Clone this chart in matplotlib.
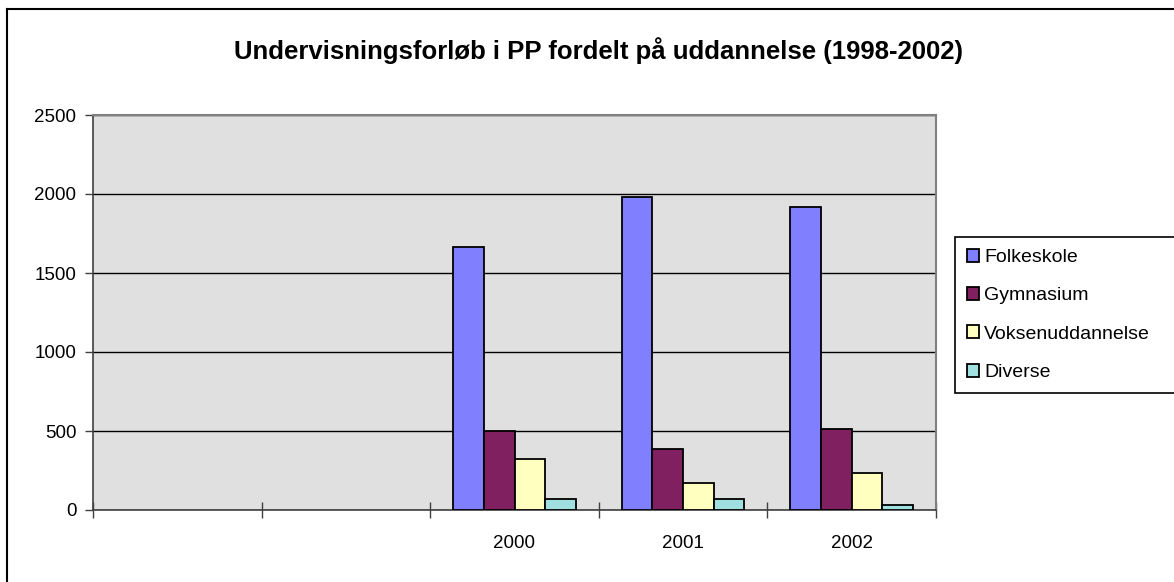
import matplotlib.pyplot as plt
import numpy as np
from matplotlib.lines import Line2D

plt.rcParams['font.family'] = ['Liberation Sans', 'DejaVu Sans']

years = ['1998', '1999', '2000', '2001', '2002']
year_labels = ['', '', '2000', '2001', '2002']
folkeskole = [np.nan, np.nan, 1663, 1979, 1916]
gymnasium = [np.nan, np.nan, 498, 384, 511]
voksenuddannelse = [np.nan, np.nan, 321, 169, 232]
diverse = [np.nan, np.nan, 68, 68, 30]

series_names = ['Folkeskole', 'Gymnasium', 'Voksenuddannelse', 'Diverse']
series_values = [folkeskole, gymnasium, voksenuddannelse, diverse]
series_colors = ['#8080FF', '#802060', '#FFFFC0', '#A0E0E0']

W, H = 1174, 582
fig = plt.figure(figsize=(W / 100, H / 100), dpi=100)
ax = fig.add_axes([93 / W, 1 - 510 / H, (936 - 93) / W, (510 - 115) / H])

x = np.arange(len(years))
width = 1 / 5.5
for i, (name, vals, color) in enumerate(zip(series_names, series_values, series_colors)):
    ax.bar(x + (i - 1.5) * width, vals, width, color=color, edgecolor='black',
           linewidth=1.3, label=name, zorder=3)

ax.set_xlim(-0.5, len(years) - 0.5)
ax.set_ylim(0, 2500)
ax.set_yticks(np.arange(0, 2501, 500))
ax.set_facecolor('#E0E0E0')
ax.yaxis.grid(True, color='black', linewidth=1)
ax.set_axisbelow(True)

# category ticks at the boundaries, labels in the middle
ax.set_xticks(np.arange(-0.5, len(years)), minor=False)
ax.set_xticklabels([])
ax.set_xticks(x, minor=True)
ax.set_xticklabels(year_labels, minor=True)
ax.tick_params(axis='x', which='major', direction='inout', length=12, width=1, color='#404040')
ax.tick_params(axis='x', which='minor', length=0, pad=18, labelsize=13.5)
ax.tick_params(axis='y', direction='out', length=6, width=1, labelsize=13.5, pad=6, color='#404040')

for side in ['top', 'right']:
    ax.spines[side].set_color('#808080')
    ax.spines[side].set_linewidth(1.5)
for side in ['left', 'bottom']:
    ax.spines[side].set_color('#404040')
    ax.spines[side].set_linewidth(1.2)

fig.text(0.5 * (230 + 968) / W, 1 - 51 / H,
         'Undervisningsforløb i PP fordelt på uddannelse (1998-2002)',
         ha='center', va='center', fontsize=18.5, fontweight='bold')

leg = fig.legend(loc='upper left', bbox_to_anchor=(955 / W, 1 - 391 / H, 0.2, (391 - 237) / H),
                 mode='expand', fontsize=14, frameon=True, fancybox=False,
                 edgecolor='black', framealpha=1, borderaxespad=0,
                 handlelength=0.65, handleheight=0.65, handletextpad=0.25,
                 labelspacing=1.08, borderpad=0.6)
leg.get_frame().set_linewidth(1.2)

# chart area border (left and top only are visible)
fig.add_artist(Line2D([7 / W, 7 / W], [0, 1 - 9 / H], color='black', lw=1.5, transform=fig.transFigure))
fig.add_artist(Line2D([7 / W, 1], [1 - 9 / H, 1 - 9 / H], color='black', lw=1.5, transform=fig.transFigure))

fig.savefig('out.png', dpi=100)
